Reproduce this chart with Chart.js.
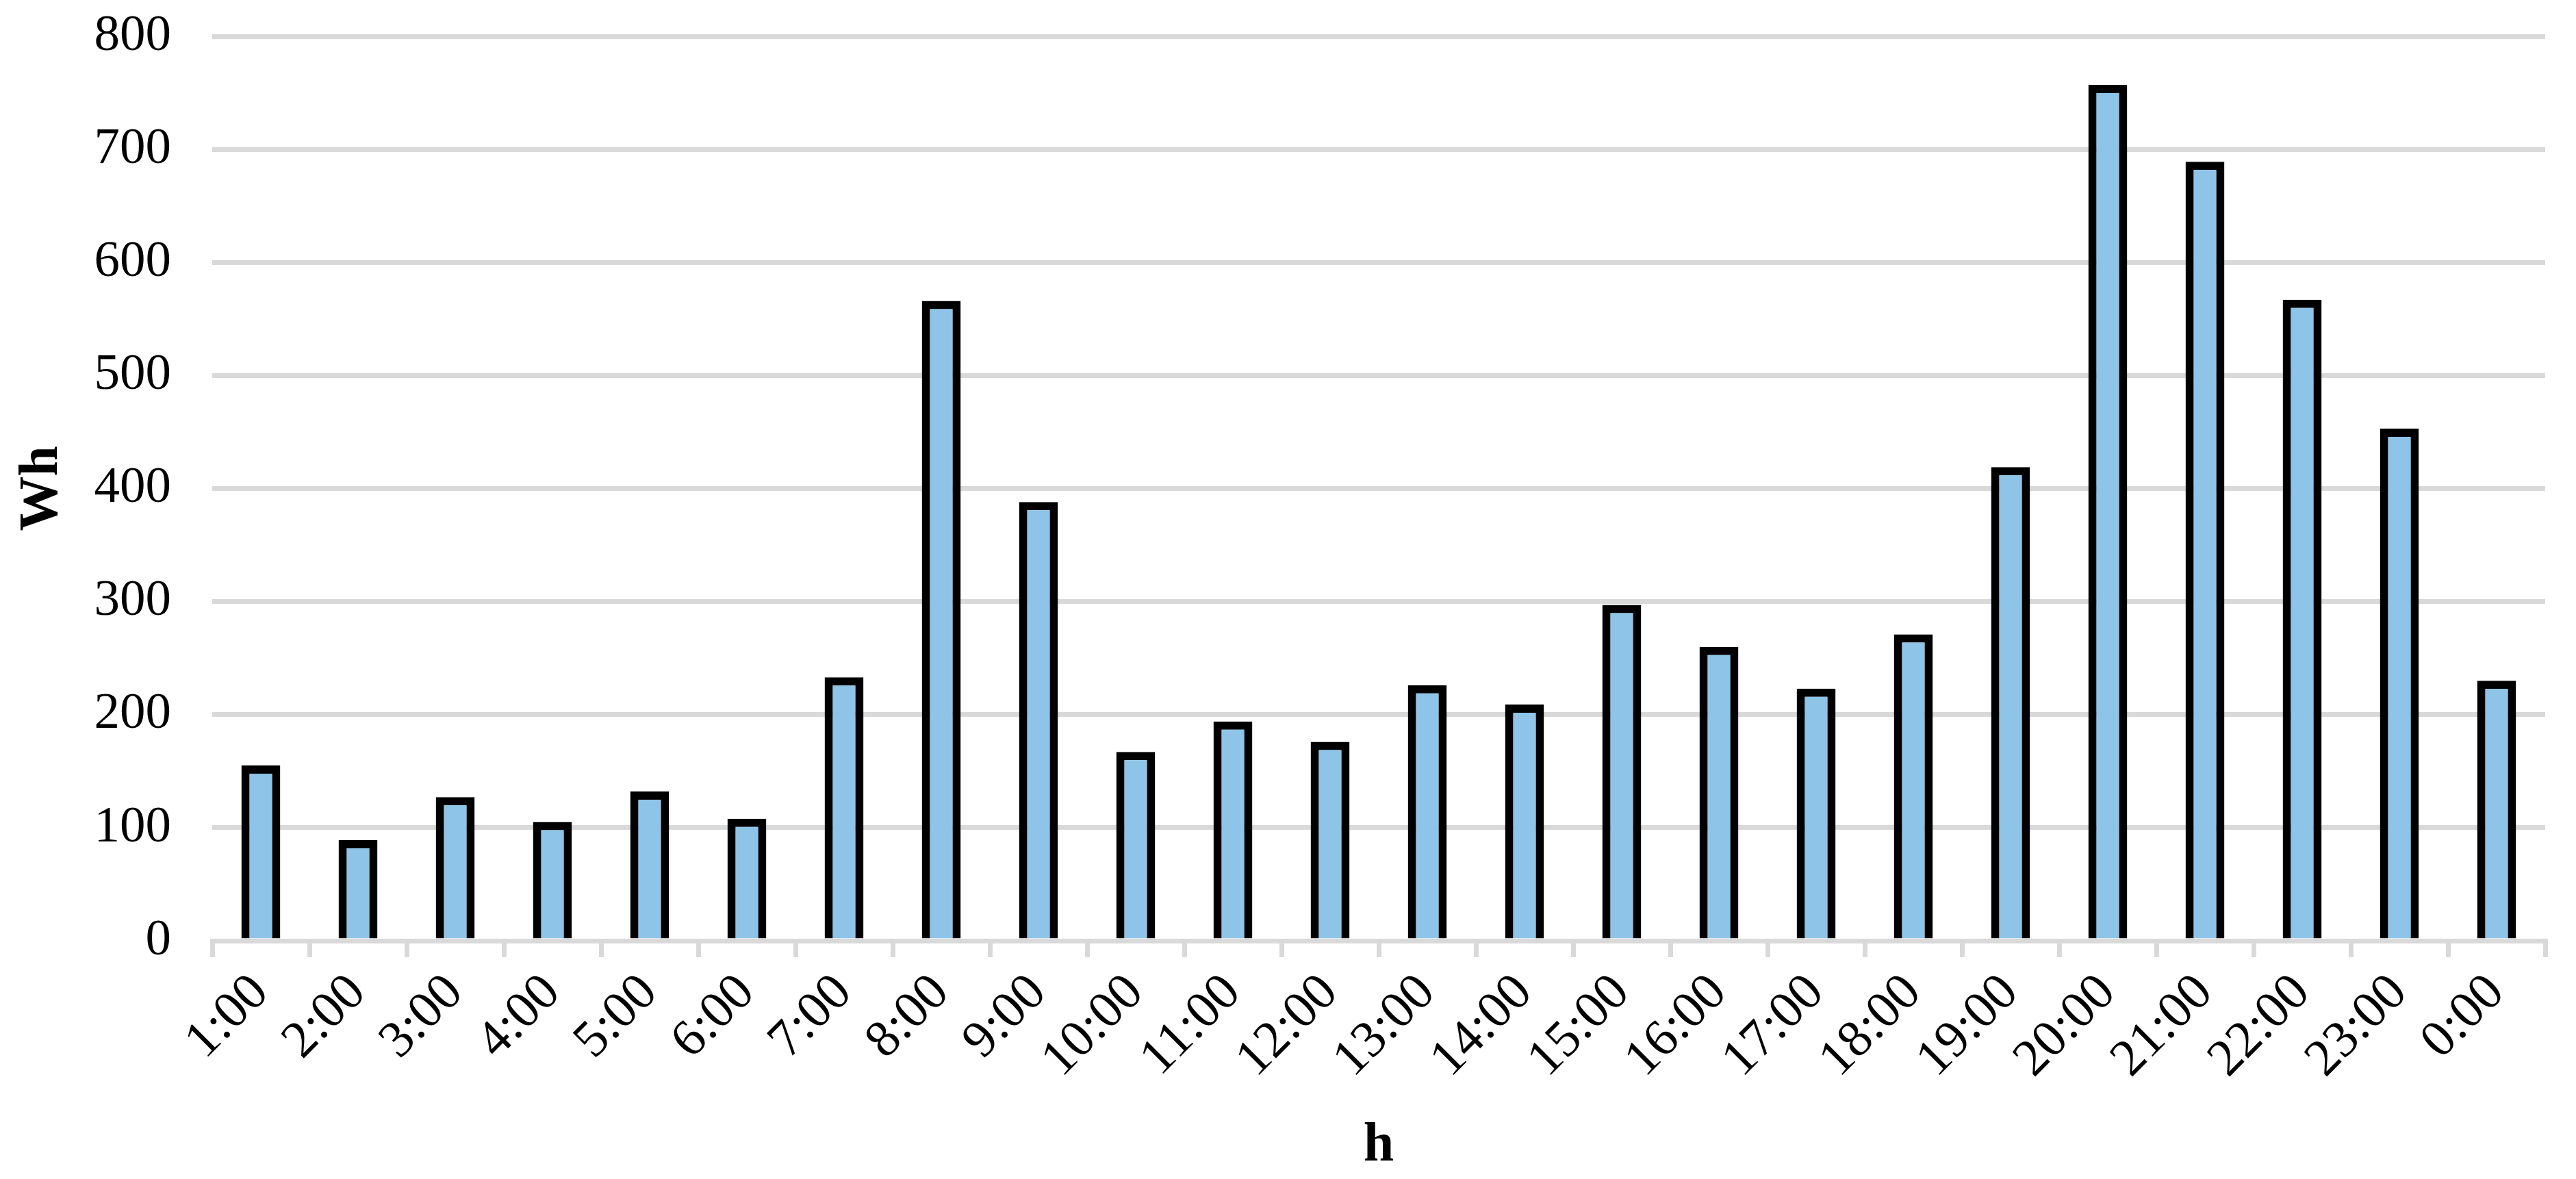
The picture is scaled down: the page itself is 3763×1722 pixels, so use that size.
<!DOCTYPE html>
<html>
<head>
<meta charset="utf-8">
<script src="https://cdn.jsdelivr.net/npm/chart.js@4.4.1/dist/chart.umd.min.js"></script>
<style>
  html, body { margin: 0; padding: 0; background: #ffffff; }
  #wrap { width: 3763px; height: 1722px; }
</style>
</head>
<body>
<div id="wrap"><canvas id="myChart" width="3763" height="1722"></canvas></div>
<script>
var hours = ['1:00','2:00','3:00','4:00','5:00','6:00','7:00','8:00','9:00','10:00','11:00','12:00',
             '13:00','14:00','15:00','16:00','17:00','18:00','19:00','20:00','21:00','22:00','23:00','0:00'];
var energy = [155, 89, 127, 105, 132, 108, 233, 566, 388, 167, 194, 176,
              226, 209, 297, 260, 223, 271, 419, 757, 689, 567, 453, 230];
var yTicks = [0, 100, 200, 300, 400, 500, 600, 700, 800];

var gridGrey = '#d9d9d9';
var serif = "'Liberation Serif', 'Times New Roman', serif";

const ctx = document.getElementById('myChart').getContext('2d');
const myChart = new Chart(ctx, {
    type: 'bar',
    data: {
        labels: hours,
        datasets: [{
            label: 'Wh',
            data: energy,
            backgroundColor: '#8dc4e7',
            borderColor: '#000000',
            borderWidth: 12,
            barPercentage: 0.4,
            categoryPercentage: 1.0
        }]
    },
    options: {
        responsive: false,
        devicePixelRatio: 1,
        animation: false,
        layout: {
            padding: { left: 0, top: 0, right: 45, bottom: 0 }
        },
        scales: {
            y: {
                min: 0,
                max: 800,
                afterBuildTicks: function(scale) {
                    scale.ticks = yTicks.map(function(v) { return { value: v }; });
                },
                afterFit: function(scale) {
                    scale.width = 310;
                    scale.paddingTop = 53;
                },
                grid: {
                    color: gridGrey,
                    lineWidth: 7,
                    drawTicks: false
                },
                border: { display: false },
                ticks: {
                    color: '#000000',
                    padding: 60,
                    font: { family: serif, size: 75 }
                },
                title: {
                    display: true,
                    text: 'Wh',
                    color: '#000000',
                    padding: { top: 14, bottom: 0 },
                    font: { family: serif, size: 80, weight: 'bold' }
                }
            },
            x: {
                afterFit: function(scale) {
                    scale.height = 348;
                },
                grid: {
                    color: gridGrey,
                    lineWidth: 7,
                    drawOnChartArea: false,
                    drawTicks: true,
                    tickLength: 24
                },
                border: { display: true, color: gridGrey, width: 7 },
                ticks: {
                    color: '#000000',
                    minRotation: 45,
                    maxRotation: 45,
                    padding: 8,
                    font: { family: serif, size: 76 }
                },
                title: {
                    display: true,
                    text: 'h',
                    color: '#000000',
                    padding: { top: 0, bottom: 0 },
                    font: { family: serif, size: 80, weight: 'bold' }
                }
            }
        },
        plugins: {
            legend: { display: false },
            tooltip: { enabled: false }
        }
    }
});
</script>
</body>
</html>
